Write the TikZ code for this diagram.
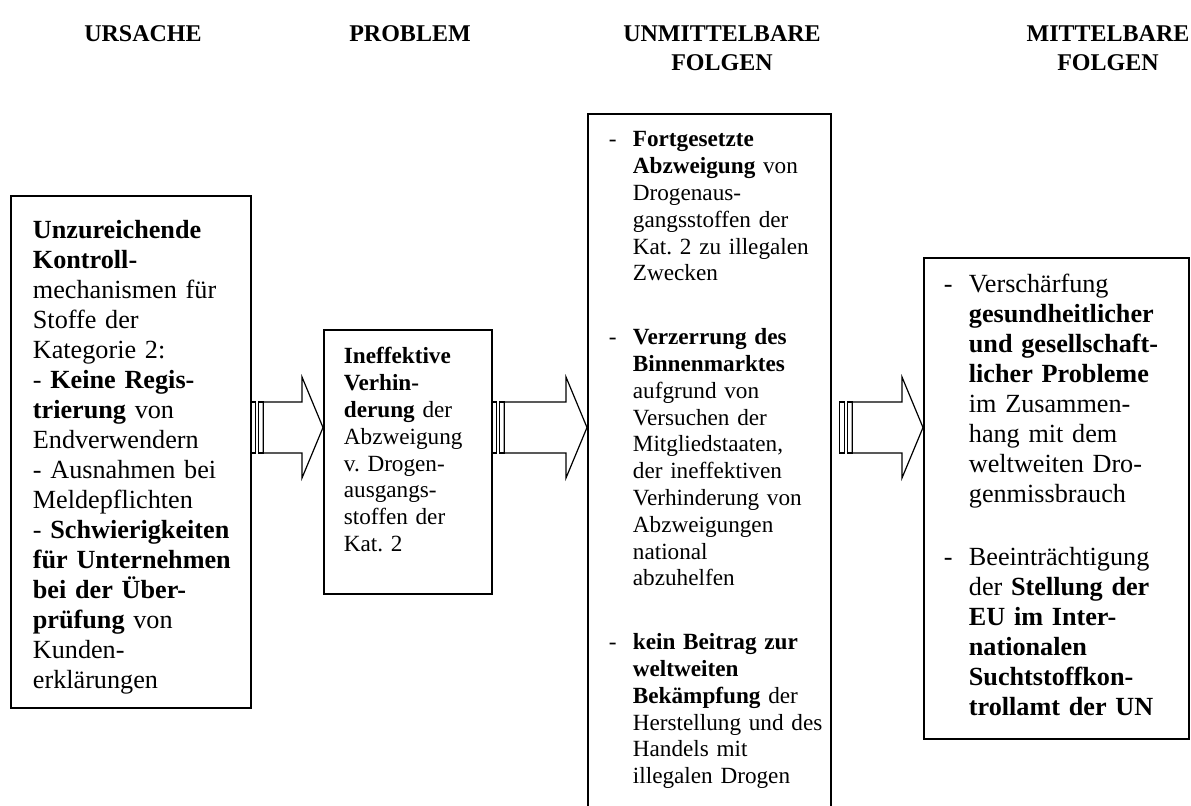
\documentclass[tikz,border=0pt]{standalone}
\usepackage{fontspec}
\setmainfont{Liberation Serif}
\usetikzlibrary{calc}

% Strich vor den Aufzaehlungen
\newcommand{\strich}[1]{\leavevmode\llap{\makebox[#1][l]{-}}}
% Streifenpfeil: von, nach, Versatz am Anfang
\newcommand{\streifenpfeil}[3]{%
	\coordinate (anfang) at ($(#1.east |- pfeilhoehe)+(#3,0)$);
	\coordinate (spitze) at (#2.west |- pfeilhoehe);
	\draw[pfeil] ($(anfang)+(0,-25.5)$) rectangle ($(anfang)+(5,25.5)$);
	\draw[pfeil] ($(anfang)+(7.5,-25.5)$) rectangle ($(anfang)+(12.5,25.5)$);
	\draw[pfeil] ($(anfang)+(12.5,-25.5)$) -- ($(spitze)+(-21,-25.5)$) -- ($(spitze)+(-21,-50.5)$) -- (spitze)
		-- ($(spitze)+(-21,50.5)$) -- ($(spitze)+(-21,25.5)$) -- ($(anfang)+(12.5,25.5)$) -- cycle;
}

\begin{document}
\begin{tikzpicture}[x=0.5pt, y=-0.5pt, semithick]
%====Stili titoli, caselle e frecce===============================================================
	\tikzstyle{titel}=[anchor=base, align=center, inner sep=0pt, font=\fontsize{12}{14.5}\selectfont\bfseries]
	\tikzstyle{kasten}=[draw, line width=0.9pt, anchor=north west, inner sep=0pt, align=left]
	\tikzstyle{gross}=[font=\fontsize{13.1}{15}\selectfont]
	\tikzstyle{klein}=[font=\fontsize{11.6}{13.4}\selectfont]
	\tikzstyle{pfeil}=[line width=0.6pt]
	\useasboundingbox (0,0) rectangle (1191,805);
	\coordinate (pfeilhoehe) at (0,427.5);
%====Titoli===============================================================
	\node[titel] (tUrsache)     at (143,41)  {URSACHE};
	\node[titel] (tProblem)     at (410,41)  {PROBLEM};
	\node[titel] (tUnmittelbar) at (722,70)  {UNMITTELBARE\\FOLGEN};
	\node[titel] (tMittelbar)   at (1108,70) {MITTELBARE\\FOLGEN};
%====Caselle===============================================================
	\node[kasten, gross, text width=120pt, text height=21.5pt, text depth=234.5pt] (ursache) at (10,195) {\leftskip=11pt
		\textbf{Unzureichende}\\
		\textbf{Kontroll-}\\
		mechanismen für\\
		Stoffe der\\
		Kategorie 2:\\
		- \textbf{Keine Regis-}\\
		\textbf{trierung} von\\
		Endverwendern\\
		- Ausnahmen bei\\
		Meldepflichten\\
		- \textbf{Schwierigkeiten}\\
		\textbf{für Unternehmen}\\
		\textbf{bei der Über-}\\
		\textbf{prüfung} von\\
		Kunden-\\
		erklärungen\par};
	\node[kasten, klein, text width=84pt, text height=17pt, text depth=115pt] (problem) at (323,329) {\leftskip=10pt
		\textbf{Ineffektive}\\
		\textbf{Verhin-}\\
		\textbf{derung} der\\
		Abzweigung\\
		v.\ Drogen-\\
		ausgangs-\\
		stoffen der\\
		Kat.\ 2\par};
	\node[kasten, klein, text width=121.5pt, text height=16.5pt, text depth=342pt] (unmittelbar) at (587,113) {\leftskip=22.5pt
		\strich{12pt}\textbf{Fortgesetzte}\\
		\textbf{Abzweigung} von\\
		Drogenaus-\\
		gangsstoffen der\\
		Kat.\ 2 zu illegalen\\
		Zwecken\par\vspace{18.5pt}
		\strich{12pt}\textbf{Verzerrung des}\\
		\textbf{Binnenmarktes}\\
		aufgrund von\\
		Versuchen der\\
		Mitgliedstaaten,\\
		der ineffektiven\\
		Verhinderung von\\
		Abzweigungen\\
		national\\
		abzuhelfen\par\vspace{18.5pt}
		\strich{12pt}\textbf{kein Beitrag zur}\\
		\textbf{weltweiten}\\
		\textbf{Bekämpfung} der\\
		Herstellung und des\\
		Handels mit\\
		illegalen Drogen\par};
	\node[kasten, gross, text width=132.5pt, text height=17.5pt, text depth=223pt] (mittelbar) at (923,257) {\leftskip=22.5pt
		\strich{12.5pt}Verschärfung\\
		\textbf{gesundheitlicher}\\
		\textbf{und gesellschaft-}\\
		\textbf{licher Probleme}\\
		im Zusammen-\\
		hang mit dem\\
		weltweiten Dro-\\
		genmissbrauch\par\vspace{16.5pt}
		\strich{12.5pt}Beeinträchtigung\\
		der \textbf{Stellung der}\\
		\textbf{EU im Inter-}\\
		\textbf{nationalen}\\
		\textbf{Suchtstoffkon-}\\
		\textbf{trollamt der UN}\par};
%====Frecce===============================================================
	\streifenpfeil{ursache}{problem}{-1}
	\streifenpfeil{problem}{unmittelbar}{-1}
	\streifenpfeil{unmittelbar}{mittelbar}{8}
\end{tikzpicture}
\end{document}
